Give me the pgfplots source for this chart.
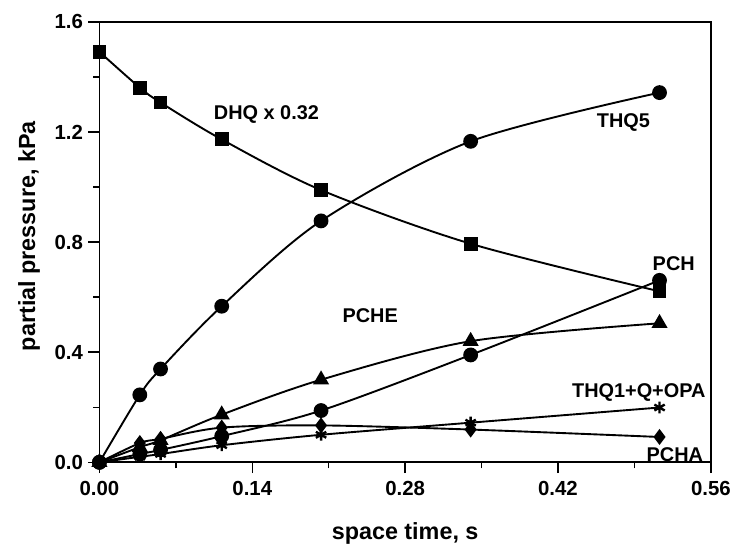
\documentclass[border=0pt]{standalone}
\usepackage{fontspec}
\setmainfont{Liberation Sans}
\usepackage{pgfplots}
\pgfplotsset{compat=1.18}

\begin{document}
\begin{tikzpicture}
\begin{axis}[
  scale only axis,
  width  = 615pt,
  height = 443pt,
  xmin = 0, xmax = 0.56,
  ymin = 0, ymax = 1.6,
  xtick = {0,0.14,0.28,0.42,0.56},
  ytick = {0,0.4,0.8,1.2,1.6},
  minor x tick num = 1,
  minor y tick num = 1,
  tick pos = left,
  tick align = outside,
  major tick length = 11pt,
  minor tick length = 6pt,
  tick style = {line width=1.5pt, black},
  axis line style = {line width=1.8pt},
  x tick label style = {yshift=-5pt, /pgf/number format/.cd, fixed, fixed zerofill, precision=2, assume math mode=true},
  y tick label style = {xshift=-2pt, /pgf/number format/.cd, fixed, fixed zerofill, precision=1, assume math mode=true},
  ticklabel style = {font=\fontsize{20.5}{22}\selectfont\bfseries},
  xlabel = {space time, s},
  ylabel = {partial pressure, kPa},
  label style = {font=\fontsize{23.5}{26}\selectfont\bfseries},
  xlabel style = {yshift=-20pt},
  ylabel style = {yshift=8pt, xshift=6pt},
  every axis plot/.append style = {black, line width=1.9pt, smooth, tension=0.5},
  clip = false,
]
% DHQ x 0.32
\addplot[mark=square*, mark size=6pt] coordinates {
  (0,1.491) (0.037,1.361) (0.056,1.307) (0.112,1.173)
  (0.203,0.989) (0.340,0.794) (0.513,0.621)};
% THQ5
\addplot[mark=*, mark size=6.5pt] coordinates {
  (0,0) (0.037,0.245) (0.056,0.339) (0.112,0.567)
  (0.203,0.877) (0.340,1.166) (0.513,1.343)};
% PCHE
\addplot[mark=triangle*, mark size=7.5pt] coordinates {
  (0,0) (0.037,0.055) (0.056,0.080) (0.112,0.173)
  (0.203,0.300) (0.340,0.440) (0.513,0.505)};
% PCH
\addplot[mark=*, mark size=6.5pt] coordinates {
  (0,0) (0.037,0.030) (0.056,0.045) (0.112,0.095)
  (0.203,0.188) (0.340,0.390) (0.513,0.661)};
% THQ1+Q+OPA
\addplot[mark=asterisk, mark size=6pt, mark options={line width=2.4pt}] coordinates {
  (0,0) (0.037,0.020) (0.056,0.030) (0.112,0.062)
  (0.203,0.100) (0.340,0.144) (0.513,0.199)};
% PCHA
\addplot[mark=diamond*, mark size=6.5pt] coordinates {
  (0,0) (0.037,0.070) (0.056,0.085) (0.112,0.126)
  (0.203,0.134) (0.340,0.119) (0.513,0.092)};

\begin{scope}[font=\fontsize{20}{22}\selectfont\bfseries]
\node at (axis cs:0.153,1.264) {DHQ x 0.32};
\node at (axis cs:0.480,1.235) {THQ5};
\node at (axis cs:0.526,0.722) {PCH};
\node at (axis cs:0.248,0.531) {PCHE};
\node at (axis cs:0.494,0.253) {THQ1+Q+OPA};
\node at (axis cs:0.527,0.029) {PCHA};
\end{scope}
\end{axis}
\useasboundingbox (-100pt,-85pt) rectangle (634pt,465pt);
\end{tikzpicture}
\end{document}
